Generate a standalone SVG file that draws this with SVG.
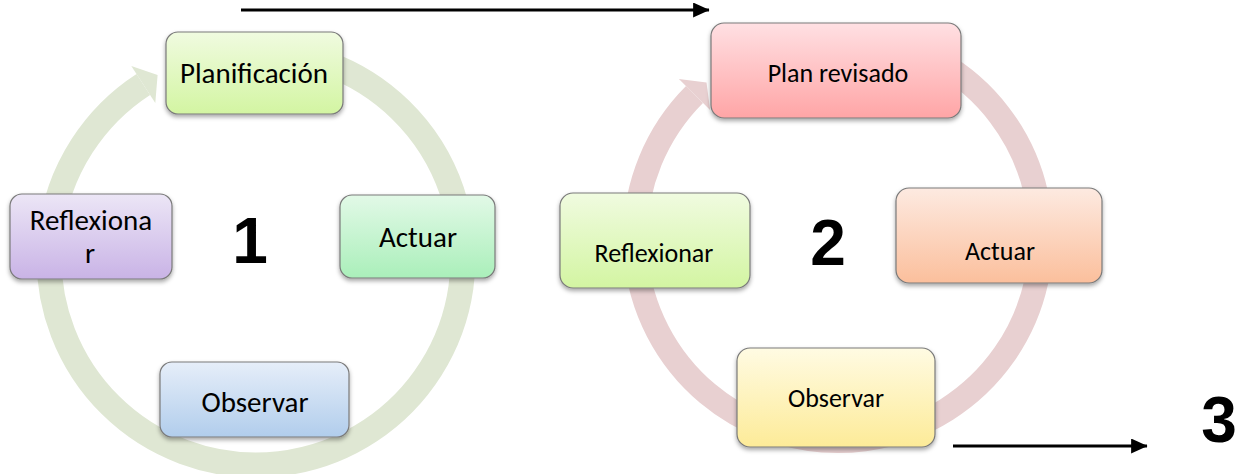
<svg xmlns="http://www.w3.org/2000/svg" width="1237" height="474" viewBox="0 0 1237 474">
<style>
.box{stroke:#7a7a7a;stroke-width:1.2;filter:url(#sh)}
.t1{font-family:Carlito,Lato,"Liberation Sans",sans-serif;font-size:29px;fill:#000;text-anchor:middle}
.t2{font-family:Carlito,Lato,"Liberation Sans",sans-serif;font-size:26px;fill:#000;text-anchor:middle}
.num{font-family:"Liberation Sans",Arial,sans-serif;font-weight:bold;font-size:64px;fill:#000;text-anchor:middle}
.ring1{fill:none;stroke:#dfe7d3;stroke-width:25}
.ring2{fill:none;stroke:#e8d0d1;stroke-width:24}
.blk{stroke:#000;stroke-width:3;fill:none;marker-end:url(#ah)}
</style>
<defs>
<filter id="sh" x="-10%" y="-10%" width="120%" height="130%">
<feDropShadow dx="0" dy="2.5" stdDeviation="2" flood-color="#000" flood-opacity="0.35"/>
</filter>
<marker id="ah" markerWidth="5.5" markerHeight="5" refX="5.3" refY="2.5" orient="auto" markerUnits="strokeWidth">
<path d="M0,0 L5.5,2.5 L0,5 Z" fill="#000"/>
</marker>
<linearGradient id="gLime" x1="0" y1="0" x2="0" y2="1"><stop offset="0" stop-color="#f0fbe0"/><stop offset="1" stop-color="#d3f5a2"/></linearGradient>
<linearGradient id="gPurple" x1="0" y1="0" x2="0" y2="1"><stop offset="0" stop-color="#ece6f6"/><stop offset="1" stop-color="#c9b3e6"/></linearGradient>
<linearGradient id="gGreen" x1="0" y1="0" x2="0" y2="1"><stop offset="0" stop-color="#e2f9e7"/><stop offset="1" stop-color="#aaefba"/></linearGradient>
<linearGradient id="gBlue" x1="0" y1="0" x2="0" y2="1"><stop offset="0" stop-color="#e6eef9"/><stop offset="1" stop-color="#b1cdec"/></linearGradient>
<linearGradient id="gPink" x1="0" y1="0" x2="0" y2="1"><stop offset="0" stop-color="#ffe0e3"/><stop offset="1" stop-color="#ffa5a6"/></linearGradient>
<linearGradient id="gPeach" x1="0" y1="0" x2="0" y2="1"><stop offset="0" stop-color="#fdeae1"/><stop offset="1" stop-color="#fbbf9c"/></linearGradient>
<linearGradient id="gYellow" x1="0" y1="0" x2="0" y2="1"><stop offset="0" stop-color="#fffbe3"/><stop offset="1" stop-color="#fdeb98"/></linearGradient>
</defs>
<rect width="1237" height="474" fill="#fff"/>

<g id="connectors">
<path class="ring1" d="M 326.8 63.5 A 207 207 0 1 1 143.3 84.4"/>
<polygon points="131.3,65.9 157.6,75.1 155.3,102.9" fill="#dfe7d3"/>
<path class="ring2" d="M 939.5 62.2 A 203 203 0 1 1 694.5 94.5"/>
<polygon points="678.9,78.9 706.5,82.5 710.1,110.1" fill="#e8d0d1"/>
<line class="blk" x1="241" y1="10" x2="709" y2="10"/>
<line class="blk" x1="953" y1="446" x2="1147" y2="446"/>
</g>

<g id="n-planificacion">
<rect class="box" x="166" y="32" width="177" height="82" rx="12" fill="url(#gLime)"/>
<text class="t1" x="254" y="83">Planificación</text>
</g>
<g id="n-actuar1">
<rect class="box" x="340" y="195" width="155" height="83" rx="12" fill="url(#gGreen)"/>
<text class="t1" x="418" y="247">Actuar</text>
</g>
<g id="n-observar1">
<rect class="box" x="160" y="362" width="189" height="75" rx="12" fill="url(#gBlue)"/>
<text class="t1" x="255" y="412">Observar</text>
</g>
<g id="n-reflexionar1">
<rect class="box" x="10" y="194" width="162" height="85" rx="12" fill="url(#gPurple)"/>
<text class="t1" x="91" y="230">Reflexiona</text>
<text class="t1" x="90" y="263">r</text>
</g>
<g id="label-1">
<text class="num" x="250" y="263">1</text>
</g>

<g id="n-plan-revisado">
<rect class="box" x="711" y="23" width="250" height="95" rx="13" fill="url(#gPink)"/>
<text class="t2" x="838" y="82">Plan revisado</text>
</g>
<g id="n-actuar2">
<rect class="box" x="896" y="188" width="206" height="95" rx="13" fill="url(#gPeach)"/>
<text class="t2" x="1000" y="260">Actuar</text>
</g>
<g id="n-observar2">
<rect class="box" x="737" y="348" width="198" height="99" rx="13" fill="url(#gYellow)"/>
<text class="t2" x="836" y="407">Observar</text>
</g>
<g id="n-reflexionar2">
<rect class="box" x="560" y="193" width="190" height="95" rx="13" fill="url(#gLime)"/>
<text class="t2" x="654" y="262">Reflexionar</text>
</g>
<g id="label-2">
<text class="num" x="828" y="265">2</text>
</g>
<g id="label-3">
<text class="num" x="1219" y="442">3</text>
</g>
</svg>
